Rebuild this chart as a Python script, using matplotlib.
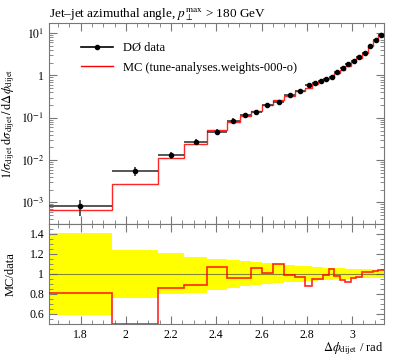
import numpy as np
import matplotlib
matplotlib.use('Agg')
import matplotlib.pyplot as plt
from matplotlib.lines import Line2D
from matplotlib.ticker import FuncFormatter, MultipleLocator, LogLocator, NullFormatter

plt.rcParams['font.family'] = ['Liberation Serif', 'DejaVu Serif']
plt.rcParams['mathtext.fontset'] = 'stix'

# bin edges in delta phi (rad)
edges = [1.660, 1.937, 2.143, 2.258, 2.359, 2.446, 2.503, 2.554, 2.600, 2.651,
         2.700, 2.750, 2.793, 2.825, 2.849, 2.874, 2.898, 2.922, 2.947, 2.971,
         2.995, 3.020, 3.044, 3.069, 3.093, 3.117, 3.1416]

# D0 data, normalised
data = [8.2e-4, 5.6e-3, 0.013, 0.0274, 0.0472, 0.0845, 0.117, 0.14, 0.195, 0.233,
        0.336, 0.434, 0.58, 0.671, 0.75, 0.835, 0.897, 1.18, 1.46, 1.85,
        2.23, 2.71, 3.37, 4.86, 6.74, 8.85]
# relative uncertainties on data (up / down)
err_up = [0.41, 0.235, 0.21, 0.17, 0.15, 0.14, 0.125, 0.115, 0.105, 0.095,
          0.085, 0.08, 0.075, 0.07, 0.065, 0.06, 0.06, 0.055, 0.055, 0.05,
          0.05, 0.045, 0.045, 0.045, 0.04, 0.04]
err_dn = [0.41, 0.24, 0.2, 0.19, 0.16, 0.14, 0.125, 0.115, 0.105, 0.095,
          0.085, 0.08, 0.075, 0.07, 0.065, 0.06, 0.06, 0.055, 0.055, 0.05,
          0.05, 0.045, 0.045, 0.045, 0.04, 0.04]

# MC prediction
mc = [6.62e-4, 2.74e-3, 0.01114, 0.02447, 0.05065, 0.08112, 0.1123, 0.148, 0.1964, 0.2563,
      0.3337, 0.4223, 0.5087, 0.6375, 0.7125, 0.8292, 0.9419, 1.153, 1.372, 1.708,
      2.134, 2.621, 3.427, 4.943, 6.922, 9.177]

edges = np.array(edges)
data = np.array(data)
mc = np.array(mc)
err_up = np.array(err_up)
err_dn = np.array(err_dn)
centers = 0.5 * (edges[1:] + edges[:-1])
halfw = 0.5 * (edges[1:] - edges[:-1])

fig = plt.figure(figsize=(3.97, 3.58), dpi=100)
ax = fig.add_axes([0.1234, 0.3743, 0.8438, 0.5615])
rax = fig.add_axes([0.1234, 0.095, 0.8438, 0.2793], sharex=ax)

# main panel
ax.errorbar(centers, data, xerr=halfw, yerr=[data * err_dn, data * err_up],
            fmt='o', color='black', ms=3, lw=1.2, elinewidth=1.2, capsize=0,
            ecolor='#3a3a3a', zorder=3)
ax.stairs(mc, edges, color='red', lw=1, alpha=0.85, baseline=None, zorder=2)
ax.set_yscale('log')
ax.set_xlim(edges[0], edges[-1])
ax.set_ylim(3.1e-4, 17.3)
ax.set_ylabel(r'$1/\sigma_{\mathrm{dijet}}\;\mathrm{d}\sigma_{\mathrm{dijet}}\,/\,\mathrm{d}\Delta\phi_{\mathrm{dijet}}$',
              fontsize=9)
ax.set_title(r'Jet–jet azimuthal angle, $p_\perp^{\mathrm{max}}$ > 180 GeV',
             loc='left', fontsize=9.5, pad=4)

def logfmt(v, pos):
    e = int(round(np.log10(v)))
    if e == 0:
        return '1'
    return r'$10^{%d}$' % e

ax.yaxis.set_major_locator(LogLocator(base=10))
ax.yaxis.set_major_formatter(FuncFormatter(logfmt))
ax.yaxis.set_minor_locator(LogLocator(base=10, subs=np.arange(2, 10)))
ax.yaxis.set_minor_formatter(NullFormatter())

handles = [Line2D([], [], color='black', marker='o', ms=3, lw=1.2),
           Line2D([], [], color='red', lw=1)]
ax.legend(handles, ['DØ data', 'MC (tune-analyses.weights-000-o)'],
          loc='upper left', bbox_to_anchor=(0.08, 0.93), frameon=False,
          fontsize=9, handlelength=2.6, borderaxespad=0, labelspacing=0.6)

# ratio panel
ratio = mc / data
rax.stairs(1 + err_up, edges, baseline=1 - err_dn, fill=True, color='yellow', lw=0, zorder=1)
rax.axhline(1, color='#555555', lw=0.8, alpha=0.7, zorder=2)
rax.stairs(np.clip(ratio, 0.502, 1.5), edges, color='red', lw=1.2, alpha=0.85,
           baseline=None, zorder=3)
rax.set_ylim(0.5, 1.5)
rax.set_ylabel('MC/data', fontsize=9)
rax.set_xlabel(r'$\Delta\phi_{\mathrm{dijet}}$ / rad', fontsize=9)
rax.xaxis.set_label_coords(1.0, -0.165)
rax.xaxis.label.set_ha('right')
rax.xaxis.label.set_va('top')
rax.yaxis.set_major_locator(MultipleLocator(0.2))
rax.yaxis.set_minor_locator(MultipleLocator(0.05))
rax.yaxis.set_major_formatter(FuncFormatter(lambda v, p: '%g' % round(v, 2)))

for a in (ax, rax):
    a.xaxis.set_major_locator(MultipleLocator(0.2))
    a.xaxis.set_minor_locator(MultipleLocator(0.05))
    a.tick_params(which='both', direction='in', top=True, right=True,
                  labelsize=8.5, color='#777777')
    a.tick_params(which='major', length=6)
    a.tick_params(which='minor', length=3)
    for s in a.spines.values():
        s.set_color('#777777')
plt.setp(ax.get_xticklabels(), visible=False)
rax.xaxis.set_major_formatter(FuncFormatter(lambda v, p: '%g' % round(v, 2)))

ax.yaxis.set_label_coords(-0.095, 0.5)
rax.yaxis.set_label_coords(-0.095, 0.5)

fig.savefig('out.png', dpi=100)
